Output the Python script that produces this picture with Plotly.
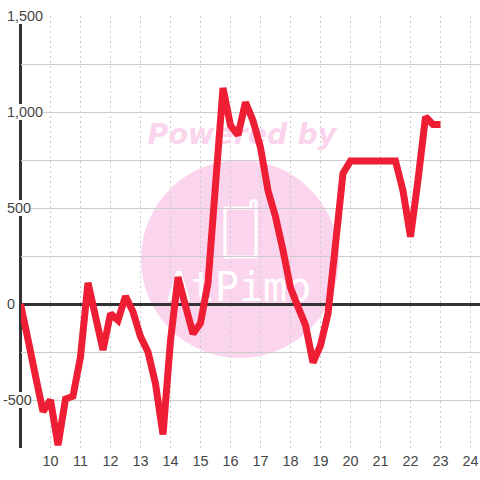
import plotly.graph_objects as go

hours = [9, 9.25, 9.5, 9.75, 10, 10.25, 10.5, 10.75, 11, 11.25, 11.5, 11.75,
         12, 12.25, 12.5, 12.75, 13, 13.25, 13.5, 13.75, 14, 14.25, 14.5, 14.75,
         15, 15.25, 15.5, 15.75, 16, 16.25, 16.5, 16.75, 17, 17.25, 17.5, 17.75,
         18, 18.25, 18.5, 18.75, 19, 19.25, 19.5, 19.75, 20, 20.25, 20.5, 20.75,
         21, 21.25, 21.5, 21.75, 22, 22.25, 22.5, 22.75, 23]
values = [0, -185, -375, -560, -500, -735, -495, -480, -275, 110, -65, -240,
          -50, -85, 40, -40, -170, -250, -415, -680, -190, 140, -10, -155,
          -100, 110, 620, 1125, 930, 880, 1050, 955, 815, 590, 455, 280,
          85, -15, -110, -305, -215, -50, 310, 680, 745, 745, 745, 745,
          745, 745, 745, 590, 350, 645, 975, 935, 935]

x_ticks = list(range(10, 25))
y_ticks = [1500, 1000, 500, 0, -500]
y_labels = ["1,500", "1,000", "500", "0", "-500"]

font = "Liberation Sans"
text_color = "#444444"
pink = "#fbd5ee"

# plot area in the 480 px window, x=9 falls half a pixel left of it
left, right, top, bottom = 21, 0, 16, 32
plot_w = 480 - left - right
x_min = 9 + 0.5 / 30
x_max = x_min + plot_w / 30
y_min, y_max = -750, 1500


def px_x(p):
    return x_min + (p - left) / 30


def px_y(p):
    return y_max - (p - top) / 0.192


fig = go.Figure()

# watermark text sits under the line
fig.add_trace(go.Scatter(
    x=[px_x(242)], y=[px_y(137)], mode="text", text=["Powered by"],
    textfont=dict(family="DejaVu Sans", size=28.5, color=pink, style="italic", weight="bold"),
    hoverinfo="skip", showlegend=False
))
fig.add_trace(go.Scatter(
    x=[px_x(239)], y=[px_y(291)], mode="text", text=["AtPimo"],
    textfont=dict(family="DejaVu Sans Mono", size=40, color="white"),
    hoverinfo="skip", showlegend=False
))

fig.add_trace(go.Scatter(
    x=hours, y=values, mode="lines",
    line=dict(color="#ee1f35", width=7, simplify=False),
    showlegend=False
))

# circle and phone outline of the watermark
fig.add_shape(type="circle", layer="below", line_width=0, fillcolor=pink,
              x0=px_x(141), x1=px_x(339), y0=px_y(160), y1=px_y(358))
phone = ("M {a} {t} L {c} {t} L {c} {h} Q {d} {h2} {e} {h} L {e} {b} "
         "L {a} {b} Z").format(
    a=px_x(225), c=px_x(251), d=px_x(253.5), e=px_x(256),
    t=px_y(208), h=px_y(202), h2=px_y(199), b=px_y(257))
fig.add_shape(type="path", path=phone, layer="below", line=dict(color="white", width=3))

# left axis line, the tick labels below break it with their white background
fig.add_shape(type="line", layer="below", xref="paper", yref="paper",
              x0=-0.5 / plot_w, x1=-0.5 / plot_w, y0=0, y1=1,
              line=dict(color="#333333", width=3))

annotations = []
for val, label in zip(y_ticks, y_labels):
    shift = 4.5 if label.startswith("-") else 0
    annotations.append(dict(
        xref="paper", yref="y", x=(7 - shift - left) / plot_w, y=val,
        text=label, showarrow=False, xanchor="left", yanchor="middle",
        bgcolor="white", borderpad=0, borderwidth=0,
        font=dict(family=font, size=14.4, color=text_color)
    ))

fig.update_layout(
    width=480, height=480,
    margin=dict(l=left, r=right, t=top, b=bottom, autoexpand=False),
    paper_bgcolor="white", plot_bgcolor="white",
    annotations=annotations,
    xaxis=dict(
        range=[x_min, x_max], tickvals=x_ticks, ticks="", showgrid=True,
        gridcolor="#cccccc", gridwidth=1, griddash="2px,3px", zeroline=False,
        tickfont=dict(family=font, size=14.4, color=text_color), automargin=False,
        ticklabelstandoff=3
    ),
    yaxis=dict(
        range=[y_min, y_max], dtick=250, showticklabels=False, ticks="",
        gridcolor="#cccccc", gridwidth=1, zeroline=True, zerolinecolor="#333333",
        zerolinewidth=3, automargin=False
    )
)

# page has a default 8px body margin, drop it so the chart fills the window
fig.write_html("out.html", config=dict(displayModeBar=False),
               post_script="document.body.style.margin='0';document.body.style.overflow='hidden';")
